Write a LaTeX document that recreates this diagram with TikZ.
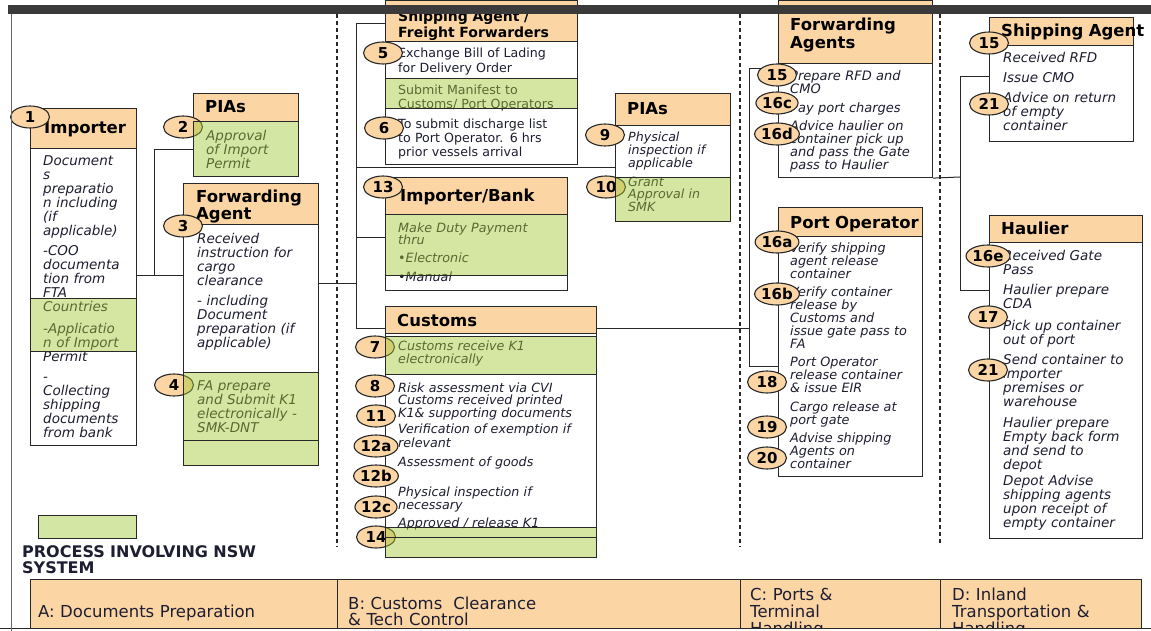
\documentclass[tikz,border=0pt]{standalone}
\usepackage{fontspec}
\setmainfont{DejaVu Sans}[ItalicFont={DejaVu Sans Oblique},BoldFont={DejaVu Sans Bold},BoldItalicFont={DejaVu Sans Bold Oblique}]
\usetikzlibrary{shapes.geometric,backgrounds}
\definecolor{orng}{RGB}{252,213,164}
\definecolor{nswg}{RGB}{160,200,50}
\definecolor{inkc}{RGB}{30,30,50}
\definecolor{linec}{RGB}{40,40,40}
\definecolor{barc}{RGB}{58,58,58}
\tikzset{
  boite/.style={anchor=north west,inner sep=0pt,draw=linec,line width=1.1pt,fill=white},
  entete/.style={boite,fill=orng},
  nsw/.style={boite,fill=nswg,fill opacity=.45,draw opacity=1},
  titre/.style={anchor=base west,inner sep=0pt,text width=170pt,align=left,text=black,
    font=\bfseries\fontsize{16.5}{16.5}\selectfont},
  texte/.style 2 args={anchor=base west,inner sep=0pt,text width=190pt,align=left,text=inkc,
    font=\itshape\fontsize{#1}{#2}\selectfont},
  droit/.style 2 args={anchor=base west,inner sep=0pt,text width=190pt,align=left,text=inkc,
    font=\fontsize{#1}{#2}\selectfont},
  phase/.style={anchor=base west,inner sep=0pt,text width=300pt,align=left,text=inkc,
    font=\fontsize{16.5}{17}\selectfont},
  etape/.style={ellipse,draw=linec,fill=orng,line width=1.1pt,minimum width=39pt,
    minimum height=22pt,inner sep=0pt,font=\bfseries\fontsize{15}{15}\selectfont},
  liaison/.style={draw=linec,line width=1pt},
  separ/.style={draw=linec,line width=1.2pt,dash pattern=on 4pt off 3pt},
}
\begin{document}
\begin{tikzpicture}[x=1pt,y=-1pt]
\useasboundingbox (0,0) rectangle (1151,631);
% Colonne A : importateur, PIAs et transitaire
\node[entete,minimum width=106pt,minimum height=40pt] (impH) at (30,108) {};
\node[boite,minimum width=106pt,minimum height=297pt] (impB) at (30,148) {};
\node[titre] (impT) at (44,134) {Importer};
\node[texte={13.5}{14}] (impX) at (43,165.5) {Document\\s\\preparatio\\n including\\(if\\applicable)\\[6pt]-COO\\documenta\\tion from\\FTA\\Countries\\[8pt]-Applicatio\\n of Import\\Permit\\[6pt]-\\Collecting\\shipping\\documents\\from bank};
\node[entete,minimum width=105pt,minimum height=28pt] (piaAH) at (193,93) {};
\node[titre] (piaAT) at (205,113) {PIAs};
\node[texte={13.5}{13}] (piaAX) at (206,140.5) {Approval\\of Import\\Permit};
\node[entete,minimum width=135pt,minimum height=41pt] (faH) at (183,183) {};
\node[boite,minimum width=135pt,minimum height=241pt] (faB) at (183,224) {};
\node[titre] (faT) at (196,203) {Forwarding\\Agent};
\node[texte={13.5}{14}] (faX) at (197,243.5) {Received\\instruction for\\cargo\\clearance\\[6pt]- including\\Document\\preparation (if\\applicable)};
\node[texte={13.5}{14}] (faY) at (197,390.5) {FA prepare\\and Submit K1\\electronically -\\SMK-DNT};
% Colonne B : agent maritime, importateur/banque, PIAs et douane
\node[entete,minimum width=192pt,minimum height=41pt] (saH) at (385,0) {};
\node[boite,minimum width=192pt,minimum height=123pt] (saB) at (385,41) {};
\node[titre,font=\bfseries\fontsize{14}{16}\selectfont] (saT) at (398,22) {Shipping Agent /\\Freight Forwarders};
\node[droit={12.6}{14.5}] (saX) at (398,58) {Exchange Bill of Lading\\for Delivery Order};
\node[droit={12.6}{14}] (saY) at (398,94.5) {Submit Manifest to\\Customs/ Port Operators};
\node[droit={12.6}{14}] (saZ) at (398,129) {To submit discharge list\\to Port Operator. 6 hrs\\prior vessels arrival};
\node[entete,minimum width=182pt,minimum height=37pt] (ibH) at (385,177) {};
\node[boite,minimum width=182pt,minimum height=76pt] (ibB) at (385,214) {};
\node[titre] (ibT) at (400,202) {Importer/Bank};
\node[texte={12.75}{12.5}] (ibX) at (398,232.5) {Make Duty Payment\\thru\\[5.5pt]•Electronic\\[6pt]•Manual};
\node[entete,minimum width=115pt,minimum height=32pt] (piaBH) at (615,93) {};
\node[boite,minimum width=115pt,minimum height=96pt] (piaBB) at (615,125) {};
\node[titre] (piaBT) at (627,115) {PIAs};
\node[texte={12.6}{13}] (piaBX) at (628,141.5) {Physical\\inspection if\\applicable};
\node[texte={12.6}{12.5}] (piaBY) at (628,186.5) {Grant\\Approval in\\SMK};
\node[entete,minimum width=211pt,minimum height=27pt] (cuH) at (385,306) {};
\node[boite,minimum width=211pt,minimum height=224pt] (cuB) at (385,333) {};
\node[titre] (cuT) at (397,326) {Customs};
\node[texte={12.7}{13}] (cuX1) at (398,350.5) {Customs receive K1\\electronically};
\node[texte={12.7}{11.5}] (cuX2) at (398,392.5) {Risk assessment via CVI\\Customs received printed\\K1\& supporting documents};
\node[texte={12.7}{13.5}] (cuX3) at (398,433.5) {Verification of exemption if\\relevant};
\node[texte={12.7}{13}] (cuX4) at (398,466.5) {Assessment of goods};
\node[texte={12.7}{13}] (cuX5) at (398,496.5) {Physical inspection if\\necessary};
\node[texte={12.7}{13}] (cuX6) at (398,527.5) {Approved / release K1};
% Colonne C : transitaires et operateur portuaire
\node[entete,minimum width=154pt,minimum height=63pt] (faCH) at (778,0) {};
\node[boite,minimum width=154pt,minimum height=114pt] (faCB) at (778,63) {};
\node[titre,font=\bfseries\fontsize{16.5}{18}\selectfont] (faCT) at (790,31) {Forwarding\\Agents};
\node[texte={13}{12.8}] (faCX) at (790,80.5) {Prepare RFD and\\CMO\\[6pt]Pay port charges\\[6pt]Advice haulier on\\container pick up\\and pass the Gate\\pass to Haulier};
\node[entete,minimum width=144pt,minimum height=29pt] (poH) at (778,207) {};
\node[boite,minimum width=144pt,minimum height=240pt] (poB) at (778,236) {};
\node[titre] (poT) at (790,229) {Port Operator};
\node[texte={12.8}{12.8}] (poX) at (790,252.5) {Verify shipping\\agent release\\container\\[6pt]Verify container\\release by\\Customs and\\issue gate pass to\\FA\\[6pt]Port Operator\\release container\\\& issue EIR\\[6pt]Cargo release at\\port gate\\[6pt]Advise shipping\\Agents on\\container};
% Colonne D : agent maritime et transporteur
\node[entete,minimum width=144pt,minimum height=28pt] (saDH) at (989,17) {};
\node[boite,minimum width=144pt,minimum height=96pt] (saDB) at (989,45) {};
\node[titre] (saDT) at (1001,37) {Shipping Agent};
\node[texte={13.5}{14}] (saDX) at (1003,63) {Received RFD\\[6pt]Issue CMO\\[6pt]Advice on return\\of empty\\container};
\node[entete,minimum width=153pt,minimum height=27pt] (haH) at (989,215) {};
\node[boite,minimum width=153pt,minimum height=296pt] (haB) at (989,242) {};
\node[titre] (haT) at (1001,234) {Haulier};
\node[texte={13.5}{14}] (haX) at (1003,260.5) {Received Gate\\Pass\\[6pt]Haulier prepare\\CDA\\[8pt]Pick up container\\out of port\\[6pt]Send container to\\importer\\premises or\\warehouse\\[7pt]Haulier prepare\\Empty back form\\and send to\\depot\\[2pt]Depot Advise\\shipping agents\\upon receipt of\\empty container};
% Numeros d'etapes
\node[etape] (e1) at (30,117) {1};
\node[etape] (e2) at (183,127) {2};
\node[etape] (e3) at (183,226) {3};
\node[etape] (e4) at (174,385) {4};
\node[etape] (e5) at (383,53) {5};
\node[etape] (e6) at (384,128) {6};
\node[etape] (e7) at (375,347) {7};
\node[etape] (e8) at (375,386) {8};
\node[etape] (e9) at (605,135) {9};
\node[etape] (e10) at (606,187) {10};
\node[etape] (e11) at (376,416) {11};
\node[etape] (e12a) at (376,446) {12a};
\node[etape] (e12b) at (376,476) {12b};
\node[etape] (e12c) at (376,507) {12c};
\node[etape] (e13) at (383,187) {13};
\node[etape] (e14) at (376,537) {14};
\node[etape] (e15a) at (777,75) {15};
\node[etape] (e15b) at (989,43) {15};
\node[etape] (e16a) at (777,242) {16a};
\node[etape] (e16b) at (777,294) {16b};
\node[etape] (e16c) at (777,103) {16c};
\node[etape] (e16d) at (777,134) {16d};
\node[etape] (e16e) at (988,256) {16e};
\node[etape] (e17) at (988,317) {17};
\node[etape] (e18) at (767,382) {18};
\node[etape] (e19) at (767,427) {19};
\node[etape] (e20) at (767,458) {20};
\node[etape] (e21a) at (989,104) {21};
\node[etape] (e21b) at (988,370) {21};
% Bandes vertes translucides : processus NSW
\node[nsw,minimum width=106pt,minimum height=53pt] (impG) at (30,298) {};
\node[nsw,minimum width=105pt,minimum height=55pt] (piaAG) at (193,121) {};
\node[nsw,minimum width=135pt,minimum height=68pt] (faG1) at (183,372) {};
\node[nsw,minimum width=135pt,minimum height=25pt] (faG2) at (183,440) {};
\node[nsw,minimum width=192pt,minimum height=30pt] (saG) at (385,78) {};
\node[nsw,minimum width=182pt,minimum height=61pt] (ibG) at (385,214) {};
\node[nsw,minimum width=115pt,minimum height=44pt] (piaBG) at (615,177) {};
\node[nsw,minimum width=211pt,minimum height=38pt] (cuG1) at (385,336) {};
\node[nsw,minimum width=211pt,minimum height=10pt] (cuG2) at (385,527) {};
\node[nsw,minimum width=211pt,minimum height=20pt] (cuG3) at (385,537) {};
% Legende
\node[nsw,minimum width=98pt,minimum height=23pt] (legG) at (38,515) {};
\node[titre,font=\bfseries\fontsize{16}{16.5}\selectfont,text width=300pt,text=inkc] (legT) at (22,557) {PROCESS INVOLVING NSW\\SYSTEM};
% Bandeau des phases
\begin{scope}
\clip (0,0) rectangle (1151,628);
\node[entete,minimum width=307pt,minimum height=60pt] (phA) at (30,579) {};
\node[entete,minimum width=403pt,minimum height=60pt] (phB) at (337,579) {};
\node[entete,minimum width=200pt,minimum height=60pt] (phC) at (740,579) {};
\node[entete,minimum width=201pt,minimum height=60pt] (phD) at (940,579) {};
\node[phase] (phAT) at (38,617) {A: Documents Preparation};
\node[phase,font=\fontsize{16.5}{16}\selectfont] (phBT) at (348,609) {B: Customs\ \ Clearance\\\& Tech Control};
\node[phase] (phCT) at (750,600) {C: Ports \&\\Terminal\\Handling};
\node[phase] (phDT) at (952,600) {D: Inland\\Transportation \&\\Handling};
\end{scope}
\draw[liaison] (0,628) -- (1151,628);
% Separateurs et cadre
\draw[separ] (337,14) -- (337,547);
\draw[separ] (740,14) -- (740,547);
\draw[separ] (940,14) -- (940,545);
\draw[draw=gray!80!black,line width=1pt] (11,14) -- (11,631);
\fill[barc] (8,5) rectangle (1151,14);
% Liaisons
\begin{pgfonlayer}{background}
\coordinate (jA) at (154,275);
\draw[liaison] (impB.east |- jA) -- (faB.west |- jA);
\draw[liaison] (jA) |- (piaAG.west);
\coordinate (bT) at (356,24);
\coordinate (b1) at (356,283);
\coordinate (b2) at (356,168);
\coordinate (b3) at (356,237);
\coordinate (bB) at (356,328);
\draw[liaison] (bT) -- (bB);
\draw[liaison] (faB.east |- b1) -- (b1);
\draw[liaison] (bT) -- (saH.west |- bT);
\draw[liaison] (b2) -- (piaBB.west |- b2);
\draw[liaison] (b3) -- (ibB.west |- b3);
\draw[liaison] (bB) -- (cuH.west |- bB);
\coordinate (cT) at (749,69);
\coordinate (c1) at (749,328);
\coordinate (cB) at (749,366);
\draw[liaison] (cuH.east |- c1) -- (c1);
\draw[liaison] (cT) -- (cB);
\draw[liaison] (cT) -- (faCB.west |- cT);
\draw[liaison] (cB) -- (poB.west |- cB);
\coordinate (dT) at (960,77);
\coordinate (d1) at (960,177);
\coordinate (dB) at (960,290);
\draw[liaison] (faCB.south east) -- (d1);
\draw[liaison] (dT) -- (dB);
\draw[liaison] (dT) -- (saDB.west |- dT);
\draw[liaison] (dB) -- (haB.west |- dB);
\end{pgfonlayer}
\end{tikzpicture}
\end{document}
